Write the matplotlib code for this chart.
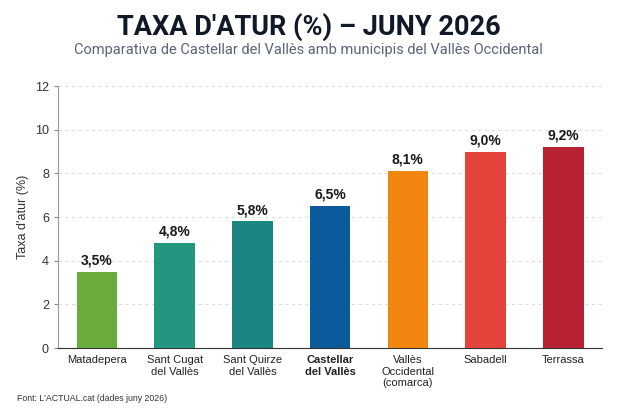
import matplotlib
matplotlib.use("Agg")
import matplotlib.pyplot as plt

plt.rcParams['font.family'] = ['Liberation Sans', 'DejaVu Sans']

# Data
municipis = ["Matadepera", "Sant Cugat\ndel Vallès", "Sant Quirze\ndel Vallès",
             "Castellar\ndel Vallès", "Vallès\nOccidental\n(comarca)", "Sabadell", "Terrassa"]
taxa = [3.5, 4.8, 5.8, 6.5, 8.1, 9.0, 9.2]
colors = ["#6aab3e", "#22967f", "#1a8682", "#0b5b9c", "#f08510", "#e4433c", "#b72233"]
y_ticks = [0, 2, 4, 6, 8, 10, 12]

fig = plt.figure(figsize=(6.17, 4.12), dpi=100)
fig.patch.set_facecolor("white")
ax = fig.add_axes([0.094, 0.155, 0.882, 0.636])

x = range(len(municipis))
bars = ax.bar(x, taxa, width=0.52, color=colors, zorder=3)

for xi, v in zip(x, taxa):
    ax.text(xi, v + 0.2, f"{v:.1f}%".replace(".", ","), ha="center", va="bottom",
            fontsize=10, fontweight="bold", color="#1a1a1a")

ax.set_xlim(-0.5, 6.5)
ax.set_ylim(0, 12)
ax.set_yticks(y_ticks)
ax.set_xticks(list(x))
ax.set_xticklabels(municipis, fontsize=8, color="#222222", linespacing=1.2)
for lbl in ax.get_xticklabels():
    if lbl.get_text().startswith("Castellar"):
        lbl.set_fontweight("bold")
ax.tick_params(axis="y", labelsize=9, colors="#333333", length=3, color="#888888")
ax.tick_params(axis="x", length=0, pad=5)
ax.set_ylabel("Taxa d'atur (%)", fontsize=9, color="#333333", labelpad=4)

ax.grid(axis="y", linestyle=(0, (3, 3)), color="#dddddd", linewidth=0.8, zorder=0)
ax.spines["top"].set_visible(False)
ax.spines["right"].set_visible(False)
ax.spines["left"].set_color("#999999")
ax.spines["bottom"].set_color("#333333")

fig.text(0.5, 0.935, "TAXA D'ATUR (%) – JUNY 2026", ha="center", va="center",
         fontsize=19.5, fontweight="bold", color="#111827", family=["Roboto", "DejaVu Sans"])
fig.text(0.5, 0.878, "Comparativa de Castellar del Vallès amb municipis del Vallès Occidental",
         ha="center", va="center", fontsize=10.5, color="#5b6577", family=["Roboto", "DejaVu Sans"])
fig.text(0.028, 0.033, "Font: L'ACTUAL.cat (dades juny 2026)", ha="left", va="center",
         fontsize=6.3, color="#333333")

fig.savefig("out.png", dpi=100)
